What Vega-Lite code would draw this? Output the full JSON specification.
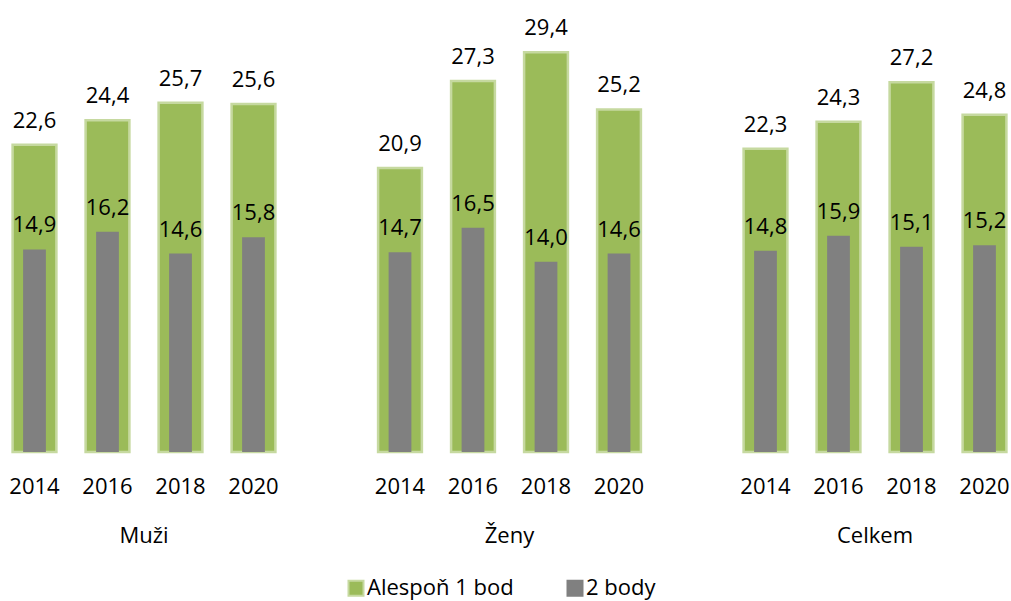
{
  "$schema": "https://vega.github.io/schema/vega-lite/v6.json",
  "padding": 0,
  "background": "white",
  "config": {
    "view": {"stroke": null},
    "font": "Open Sans",
    "locale": {"number": {"decimal": ",", "thousands": " ", "grouping": [3], "currency": ["", " Kč"]}}
  },
  "data": {"values": [
    {"group": "Muži", "year": "2014", "series": "Alespoň 1 bod", "value": 22.6},
    {"group": "Muži", "year": "2016", "series": "Alespoň 1 bod", "value": 24.4},
    {"group": "Muži", "year": "2018", "series": "Alespoň 1 bod", "value": 25.7},
    {"group": "Muži", "year": "2020", "series": "Alespoň 1 bod", "value": 25.6},
    {"group": "Ženy", "year": "2014", "series": "Alespoň 1 bod", "value": 20.9},
    {"group": "Ženy", "year": "2016", "series": "Alespoň 1 bod", "value": 27.3},
    {"group": "Ženy", "year": "2018", "series": "Alespoň 1 bod", "value": 29.4},
    {"group": "Ženy", "year": "2020", "series": "Alespoň 1 bod", "value": 25.2},
    {"group": "Celkem", "year": "2014", "series": "Alespoň 1 bod", "value": 22.3},
    {"group": "Celkem", "year": "2016", "series": "Alespoň 1 bod", "value": 24.3},
    {"group": "Celkem", "year": "2018", "series": "Alespoň 1 bod", "value": 27.2},
    {"group": "Celkem", "year": "2020", "series": "Alespoň 1 bod", "value": 24.8},
    {"group": "Muži", "year": "2014", "series": "2 body", "value": 14.9},
    {"group": "Muži", "year": "2016", "series": "2 body", "value": 16.2},
    {"group": "Muži", "year": "2018", "series": "2 body", "value": 14.6},
    {"group": "Muži", "year": "2020", "series": "2 body", "value": 15.8},
    {"group": "Ženy", "year": "2014", "series": "2 body", "value": 14.7},
    {"group": "Ženy", "year": "2016", "series": "2 body", "value": 16.5},
    {"group": "Ženy", "year": "2018", "series": "2 body", "value": 14.0},
    {"group": "Ženy", "year": "2020", "series": "2 body", "value": 14.6},
    {"group": "Celkem", "year": "2014", "series": "2 body", "value": 14.8},
    {"group": "Celkem", "year": "2016", "series": "2 body", "value": 15.9},
    {"group": "Celkem", "year": "2018", "series": "2 body", "value": 15.1},
    {"group": "Celkem", "year": "2020", "series": "2 body", "value": 15.2}
  ]},
  "facet": {
    "column": {
      "field": "group", "type": "nominal", "sort": ["Muži", "Ženy", "Celkem"], "title": null,
      "header": {"labelOrient": "bottom", "labelFontSize": 22, "labelColor": "black", "labelPadding": 29, "labelFont": "Open Sans"}
    }
  },
  "spacing": {"column": 77.5},
  "resolve": {"scale": {"x": "independent"}},
  "spec": {
    "width": 288,
    "height": 452,
    "encoding": {
      "x": {
        "field": "year", "type": "ordinal",
        "scale": {"paddingInner": 0.4, "paddingOuter": 0.1725},
        "axis": {"title": null, "domain": false, "ticks": false, "labelAngle": 0, "labelFontSize": 22, "labelColor": "black", "labelPadding": 24, "labelFont": "Open Sans"}
      },
      "y": {
        "field": "value", "type": "quantitative",
        "scale": {"domain": [0, 33.25], "nice": false, "zero": true},
        "axis": null
      }
    },
    "layer": [
      {
        "transform": [{"filter": "datum.series === 'Alespoň 1 bod'"}],
        "mark": {"type": "bar", "strokeWidth": 2.5},
        "encoding": {
          "color": {"field": "series", "type": "nominal",
            "scale": {"domain": ["Alespoň 1 bod", "2 body"], "range": ["#9BBB59", "#808080"]},
            "legend": {"title": null, "orient": "none", "legendX": 345, "legendY": 577, "padding": 0, "direction": "horizontal", "symbolType": "square", "symbolSize": 225, "labelFontSize": 22, "labelColor": "black", "labelFont": "Open Sans", "columnPadding": 49, "symbolStrokeWidth": 2, "labelOffset": 0}
          },
          "stroke": {"field": "series", "type": "nominal",
            "scale": {"domain": ["Alespoň 1 bod", "2 body"], "range": ["#C6D9A0", "#808080"]},
            "legend": {"title": null, "orient": "none", "legendX": 345, "legendY": 577, "padding": 0, "direction": "horizontal", "symbolType": "square", "symbolSize": 225, "labelFontSize": 22, "labelColor": "black", "labelFont": "Open Sans", "columnPadding": 49, "symbolStrokeWidth": 2, "labelOffset": 0}
          }
        }
      },
      {
        "transform": [{"filter": "datum.series === '2 body'"}],
        "mark": {"type": "bar", "width": {"band": 0.52}},
        "encoding": {
          "color": {"field": "series", "type": "nominal"}
        }
      },
      {
        "mark": {"type": "text", "baseline": "alphabetic", "dy": -17, "fontSize": 22, "color": "black", "font": "Open Sans"},
        "encoding": {
          "text": {"field": "value", "type": "quantitative", "format": ".1f"}
        }
      }
    ]
  }
}
